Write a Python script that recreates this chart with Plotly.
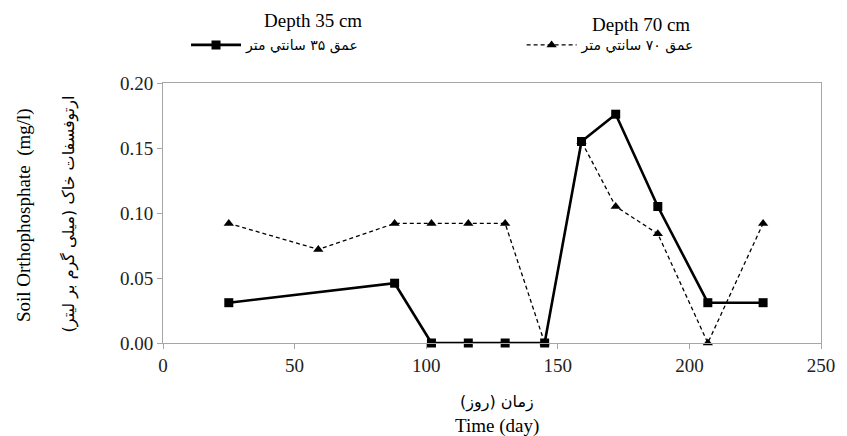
import plotly.graph_objects as go

# Data
days_35 = [25, 88, 102, 116, 130, 145, 159, 172, 188, 207, 228]
vals_35 = [0.031, 0.046, 0.0, 0.0, 0.0, 0.0, 0.155, 0.176, 0.105, 0.031, 0.031]
days_70 = [25, 59, 88, 102, 116, 130, 145, 159, 172, 188, 207, 228]
vals_70 = [0.092, 0.072, 0.092, 0.092, 0.092, 0.092, 0.0, 0.155, 0.105, 0.084, 0.0, 0.092]

name_35 = "عمق ۳۵ سانتي متر"
name_70 = "عمق ۷۰ سانتي متر"
title_35 = "Depth 35 cm"
title_70 = "Depth 70 cm"

x_ticks = [0, 50, 100, 150, 200, 250]
y_ticks = [0.0, 0.05, 0.10, 0.15, 0.20]

SERIF = "Liberation Serif"
ARABIC = "DejaVu Sans"

fig = go.Figure()
fig.add_trace(go.Scatter(
    x=days_70, y=vals_70, mode="lines+markers", name=name_70,
    line=dict(color="black", width=1.3, dash="4px,3px"),
    marker=dict(symbol="triangle-up", size=9, color="black"),
    cliponaxis=False, legend="legend2",
))
fig.add_trace(go.Scatter(
    x=days_35, y=vals_35, mode="lines+markers", name=name_35,
    line=dict(color="black", width=2.6),
    marker=dict(symbol="square", size=9, color="black"),
    cliponaxis=False, legend="legend",
))

fig.update_layout(
    width=847, height=436,
    margin=dict(l=163, r=16, t=83, b=93),
    paper_bgcolor="white", plot_bgcolor="white",
    font=dict(family=SERIF, size=19, color="#222"),
    legend=dict(x=0.035, y=1.145, xanchor="left", yanchor="middle",
                font=dict(family=ARABIC, size=14, color="black"),
                bgcolor="rgba(0,0,0,0)", itemwidth=50),
    legend2=dict(x=0.545, y=1.145, xanchor="left", yanchor="middle",
                 font=dict(family=ARABIC, size=14, color="black"),
                 bgcolor="rgba(0,0,0,0)", itemwidth=50),
    showlegend=True,
)
fig.update_xaxes(range=[0, 250], tickvals=x_ticks)
fig.update_yaxes(range=[0, 0.20], tickvals=y_ticks, tickformat=".2f")
fig.update_xaxes(showgrid=False, zeroline=False, showline=True, linecolor="#a6a6a6",
                 linewidth=1, mirror=True, ticks="outside", ticklen=5, tickcolor="#a6a6a6",
                 tickfont_family=SERIF, tickfont_size=19, tickfont_color="#222")
fig.update_yaxes(showgrid=False, zeroline=False, showline=True, linecolor="#a6a6a6",
                 linewidth=1, mirror=True, ticks="outside", ticklen=5, tickcolor="#a6a6a6",
                 tickfont_family=SERIF, tickfont_size=19, tickfont_color="#222")

annots = [
    dict(text=title_35, x=315, y=21),
    dict(text=title_70, x=648, y=25),
]
for a in annots:
    fig.add_annotation(text=a["text"], xref="paper", yref="paper",
                       x=(a["x"] - 163) / 668, y=(343 - a["y"]) / 260,
                       showarrow=False, xanchor="center", yanchor="middle",
                       font=dict(family=SERIF, size=19, color="black"))

# Axis titles
fig.add_annotation(text="زمان (روز)", xref="paper", yref="paper",
                   x=(502 - 163) / 668, y=(343 - 402) / 260, showarrow=False,
                   xanchor="center", yanchor="middle",
                   font=dict(family=ARABIC, size=16, color="black"))
fig.add_annotation(text="Time (day)", xref="paper", yref="paper",
                   x=(502 - 163) / 668, y=(343 - 426) / 260, showarrow=False,
                   xanchor="center", yanchor="middle",
                   font=dict(family=SERIF, size=19, color="black"))
fig.add_annotation(text="Soil Orthophosphate\u00a0\u00a0(mg/l)", xref="paper", yref="paper",
                   x=(22 - 163) / 668, y=(343 - 215) / 260, showarrow=False,
                   textangle=-90, xanchor="center", yanchor="middle",
                   font=dict(family=SERIF, size=19, color="black"))
fig.add_annotation(text="ارتوفسفات خاک (میلی گرم بر لیتر)", xref="paper", yref="paper",
                   x=(68 - 163) / 668, y=(343 - 214) / 260, showarrow=False,
                   textangle=-90, xanchor="center", yanchor="middle",
                   font=dict(family=ARABIC, size=16, color="black"))

fig.write_html("out.html")
